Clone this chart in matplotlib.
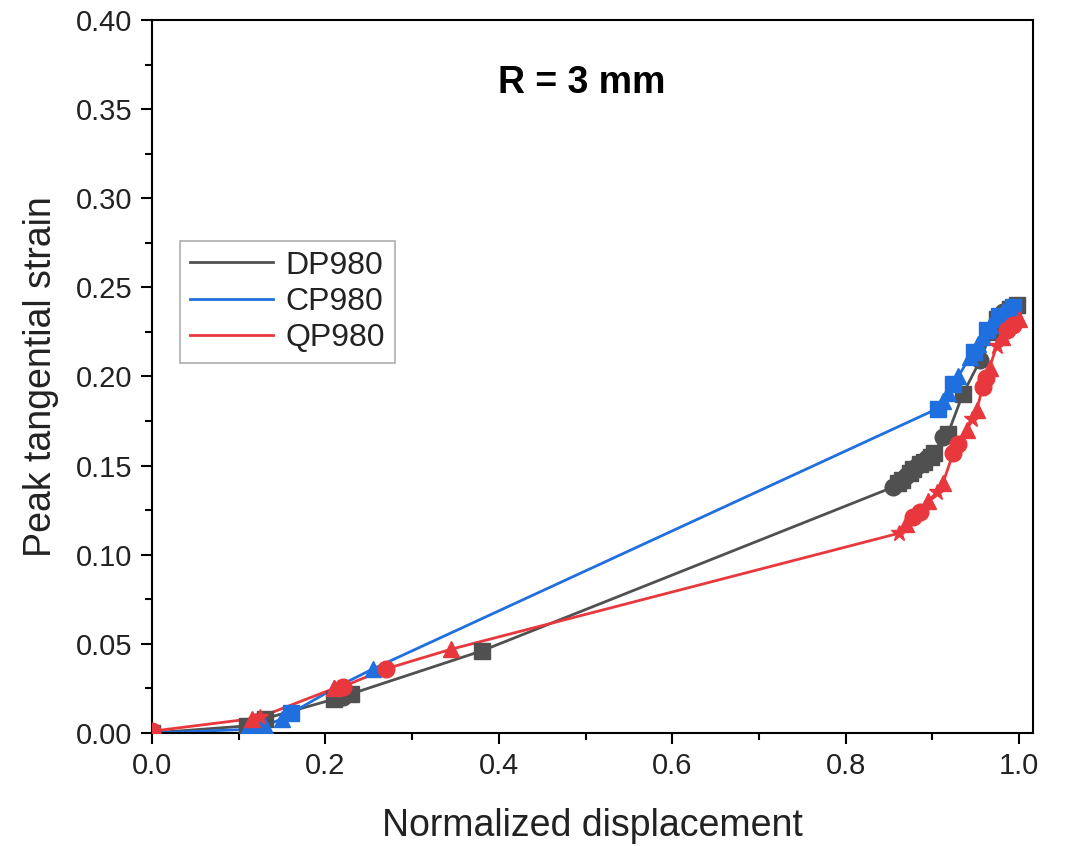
import matplotlib
matplotlib.use("Agg")
import matplotlib.pyplot as plt
from matplotlib.ticker import MultipleLocator

plt.rcParams['font.family'] = ['Liberation Sans', 'DejaVu Sans']

# peak tangential strain vs normalized displacement, R = 3 mm
dp_x = [0.0, 0.11, 0.12, 0.13, 0.21, 0.22, 0.23, 0.38, 0.855, 0.86, 0.865, 0.87, 0.874,
        0.878, 0.882, 0.886, 0.89, 0.894, 0.898, 0.902, 0.912, 0.918, 0.935, 0.955,
        0.968, 0.975, 0.982, 0.99, 0.998]
dp_y = [0.0, 0.004, 0.006, 0.008, 0.019, 0.020, 0.022, 0.046, 0.138, 0.140, 0.142, 0.144,
        0.146, 0.148, 0.150, 0.151, 0.152, 0.154, 0.155, 0.157, 0.166, 0.168, 0.190, 0.209,
        0.225, 0.232, 0.236, 0.238, 0.240]

cp_x = [0.0, 0.11, 0.12, 0.13, 0.15, 0.16, 0.21, 0.255, 0.906, 0.912, 0.918, 0.924,
        0.93, 0.943, 0.948, 0.953, 0.958, 0.963, 0.967, 0.972, 0.977, 0.982, 0.988, 0.993]
cp_y = [0.0, 0.002, 0.003, 0.004, 0.008, 0.011, 0.025, 0.036, 0.182, 0.186, 0.191, 0.196,
        0.200, 0.211, 0.214, 0.218, 0.222, 0.226, 0.229, 0.232, 0.234, 0.237, 0.238, 0.239]

qp_x = [0.0, 0.115, 0.125, 0.21, 0.22, 0.27, 0.345, 0.861, 0.87, 0.878, 0.886, 0.895,
        0.905, 0.912, 0.924, 0.93, 0.94, 0.946, 0.951, 0.958, 0.962, 0.966, 0.974,
        0.98, 0.986, 0.993, 1.0]
qp_y = [0.001, 0.008, 0.009, 0.025, 0.026, 0.036, 0.047, 0.112, 0.117, 0.121, 0.124, 0.130,
        0.135, 0.140, 0.157, 0.162, 0.170, 0.176, 0.181, 0.194, 0.199, 0.205, 0.217,
        0.222, 0.226, 0.229, 0.232]

series = [
    ("DP980", dp_x, dp_y, "#505050", ["s", "s", "o"]),
    ("CP980", cp_x, cp_y, "#1f6fdf", ["^", "^", "s"]),
    ("QP980", qp_x, qp_y, "#e8383d", ["o", "^", "*", "^", "o"]),
]

fig = plt.figure(figsize=(10.73, 8.46), dpi=100)
ax = fig.add_axes([0.1417, 0.1336, 0.821, 0.8428])

for name, xs, ys, col, mks in series:
    ax.plot(xs, ys, color=col, lw=2, label=name, zorder=2)
    for i, (x, y) in enumerate(zip(xs, ys)):
        ax.plot(x, y, marker=mks[i % len(mks)], color=col, ms=12, ls="none", zorder=3)

ax.set_xlim(0, 1.016)
ax.set_ylim(0, 0.40)
ax.xaxis.set_major_locator(MultipleLocator(0.2))
ax.xaxis.set_minor_locator(MultipleLocator(0.1))
ax.yaxis.set_major_locator(MultipleLocator(0.05))
ax.yaxis.set_minor_locator(MultipleLocator(0.025))
ax.xaxis.set_major_formatter(plt.FuncFormatter(lambda v, p: f"{v:.1f}"))
ax.yaxis.set_major_formatter(plt.FuncFormatter(lambda v, p: f"{v:.2f}"))

ax.tick_params(which="major", direction="out", length=8, width=1.5, labelsize=21, pad=6,
               labelcolor="#222222")
ax.tick_params(which="minor", direction="out", length=5, width=1.5)
for s in ax.spines.values():
    s.set_linewidth(1.5)

ax.set_xlabel("Normalized displacement", fontsize=27, labelpad=20, color="#222222")
ax.set_ylabel("Peak tangential strain", fontsize=27, labelpad=12, color="#222222")

ax.text(0.488, 0.912, "R = 3 mm", transform=ax.transAxes, ha="center", va="center",
        fontsize=27, fontweight="bold")

leg = ax.legend(loc="upper left", bbox_to_anchor=(0.032, 0.69), fontsize=23,
                frameon=True, fancybox=False, edgecolor="#999999",
                handlelength=2.6, handletextpad=0.4, borderpad=0.3, labelspacing=0.2,
                borderaxespad=0)
leg.get_frame().set_linewidth(1.2)
for t in leg.get_texts():
    t.set_color("#222222")

fig.savefig("out.png", dpi=100)
